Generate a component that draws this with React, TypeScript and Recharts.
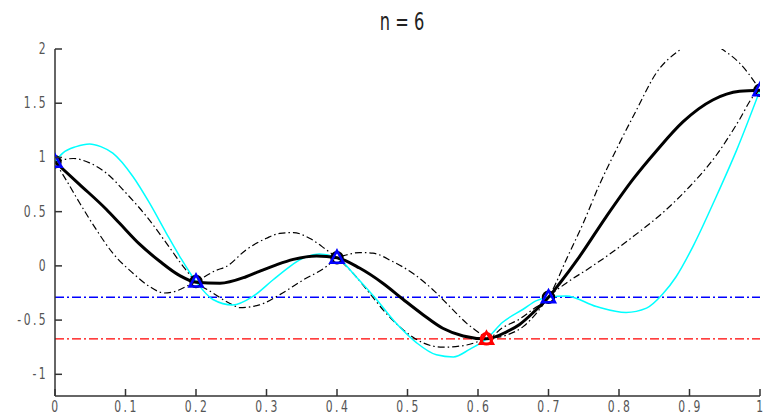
import React from 'react';
import { ComposedChart, Line, Scatter, XAxis, YAxis, ReferenceLine } from 'recharts';

const xTicks = [0, 0.1, 0.2, 0.3, 0.4, 0.5, 0.6, 0.7, 0.8, 0.9, 1];
const yTicks = [-1, -0.5, 0, 0.5, 1, 1.5, 2];

// interpolation nodes (blue) and the minimum found (red)
const nodeX = [0, 0.2, 0.4, 0.7, 1];
const nodeY = [0.96, -0.145, 0.075, -0.29, 1.62];
const minX = [0.612];
const minY = [-0.673];

const levelBlue = -0.29;
const levelRed = -0.673;

// thick black curve
const thickX = [0, 0.035, 0.073, 0.092, 0.12, 0.149, 0.177, 0.2, 0.234, 0.271, 0.29, 0.314, 0.338, 0.371, 0.4, 0.432, 0.465, 0.494, 0.522, 0.55, 0.579, 0.612, 0.64, 0.659, 0.68, 0.7, 0.716, 0.744, 0.782, 0.82, 0.853, 0.891, 0.933, 0.971, 1];
const thickY = [0.96, 0.75, 0.52, 0.39, 0.2, 0.04, -0.09, -0.15, -0.16, -0.1, -0.05, 0.01, 0.06, 0.092, 0.075, -0.02, -0.16, -0.31, -0.45, -0.575, -0.646, -0.673, -0.61, -0.54, -0.42, -0.29, -0.16, 0.086, 0.455, 0.8, 1.06, 1.33, 1.53, 1.61, 1.62];

// cyan curve
const cyanX = [0, 0.011, 0.03, 0.049, 0.065, 0.082, 0.111, 0.134, 0.158, 0.177, 0.2, 0.224, 0.252, 0.281, 0.309, 0.333, 0.347, 0.375, 0.4, 0.427, 0.456, 0.484, 0.513, 0.541, 0.565, 0.588, 0.612, 0.635, 0.664, 0.683, 0.7, 0.725, 0.768, 0.81, 0.839, 0.862, 0.881, 0.905, 0.938, 0.967, 1];
const cyanY = [0.96, 1.04, 1.1, 1.125, 1.1, 1.04, 0.82, 0.58, 0.3, 0.086, -0.145, -0.31, -0.36, -0.28, -0.13, -0.006, 0.055, 0.11, 0.075, -0.1, -0.31, -0.53, -0.71, -0.82, -0.84, -0.77, -0.673, -0.52, -0.4, -0.32, -0.29, -0.277, -0.375, -0.43, -0.39, -0.26, -0.1, 0.18, 0.64, 1.07, 1.62];

// dash-dot curves
const dashAX = [0, 0.026, 0.049, 0.073, 0.101, 0.13, 0.158, 0.182, 0.2, 0.224, 0.252, 0.262, 0.29, 0.319, 0.352, 0.385, 0.4, 0.413, 0.432, 0.451, 0.479, 0.508, 0.536, 0.56, 0.584, 0.602, 0.612, 0.635, 0.659, 0.68, 0.7, 0.706, 0.725, 0.749, 0.773, 0.796, 0.825, 0.853, 0.886, 0.915, 0.948, 0.971, 0.995, 1];
const dashAY = [0.96, 0.99, 0.95, 0.855, 0.67, 0.455, 0.21, -0.006, -0.145, -0.25, -0.36, -0.385, -0.36, -0.265, -0.13, -0.006, 0.075, 0.1, 0.123, 0.117, 0.04, -0.07, -0.22, -0.375, -0.53, -0.62, -0.673, -0.57, -0.49, -0.39, -0.29, -0.22, 0.055, 0.39, 0.76, 1.07, 1.44, 1.78, 1.99, 2.1, 1.99, 1.87, 1.67, 1.62];

const dashBX = [0, 0.016, 0.035, 0.059, 0.082, 0.111, 0.134, 0.155, 0.175, 0.186, 0.2, 0.229, 0.243, 0.271, 0.3, 0.319, 0.338, 0.361, 0.385, 0.4, 0.423, 0.446, 0.47, 0.494, 0.522, 0.55, 0.584, 0.612, 0.64, 0.664, 0.685, 0.7, 0.725, 0.758, 0.782, 0.82, 0.862, 0.9, 0.938, 0.971, 0.99, 1];
const dashBY = [0.96, 0.79, 0.58, 0.33, 0.117, -0.07, -0.19, -0.25, -0.225, -0.19, -0.145, -0.04, -0.006, 0.148, 0.255, 0.3, 0.307, 0.255, 0.148, 0.075, -0.07, -0.25, -0.44, -0.59, -0.71, -0.75, -0.73, -0.673, -0.64, -0.56, -0.42, -0.29, -0.16, -0.02, 0.086, 0.27, 0.49, 0.73, 1.02, 1.35, 1.56, 1.62];

const zip = (xs: number[], ys: number[]) => xs.map((x, i) => ({ x, y: ys[i] }));

const tickFont = '"Liberation Sans Narrow", "DejaVu Sans Condensed", sans-serif';
const axisColor = '#333';
const dashDot = '7 3 1.5 3';

const YTick = ({ x, y, payload }: any) => (
  <g>
    <line x1={x} x2={x + 7} y1={y} y2={y} stroke={axisColor} strokeWidth={1.5} />
    <g transform={`translate(${x - 7},${y + 5}) scale(0.8,1)`}>
      <text textAnchor="end" fontFamily={tickFont} fontSize={15} letterSpacing={3} fill="#555">
        {String(payload.value)}
      </text>
    </g>
  </g>
);

const XTick = ({ x, y, payload }: any) => (
  <g>
    <line x1={x} x2={x} y1={y} y2={y - 7} stroke={axisColor} strokeWidth={1.5} />
    <g transform={`translate(${x + 1},${y + 16}) scale(0.8,1)`}>
      <text textAnchor="middle" fontFamily={tickFont} fontSize={15} letterSpacing={3} fill="#555">
        {String(payload.value)}
      </text>
    </g>
  </g>
);

const NodeMark = ({ cx, cy, color, ring }: any) => (
  <g>
    <circle cx={cx} cy={cy} r={5.5} fill="none" stroke={ring} strokeWidth={2.5} />
    <polygon
      points={`${cx},${cy - 7} ${cx + 6.5},${cy + 5} ${cx - 6.5},${cy + 5}`}
      fill="none"
      stroke={color}
      strokeWidth={2.5}
      strokeLinejoin="miter"
    />
  </g>
);

export default function App() {
  return (
    <div style={{ position: 'absolute', left: 0, top: 0, width: 771, height: 412, background: '#fff' }}>
      <ComposedChart width={771} height={412} margin={{ top: 49, right: 11, bottom: 0, left: 0 }}>
        <XAxis
          dataKey="x"
          type="number"
          domain={[0, 1]}
          ticks={xTicks}
          height={16}
          tickSize={0}
          tickMargin={0}
          tickLine={false}
          axisLine={{ stroke: axisColor, strokeWidth: 1.5 }}
          tick={<XTick />}
          allowDataOverflow
        />
        <YAxis
          type="number"
          domain={[-1.2, 2]}
          ticks={yTicks}
          width={55}
          tickSize={0}
          tickMargin={0}
          tickLine={false}
          axisLine={{ stroke: axisColor, strokeWidth: 1.5 }}
          tick={<YTick />}
          allowDataOverflow
        />
        <ReferenceLine y={levelBlue} stroke="#0000ff" strokeWidth={1.4} strokeDasharray="9 3 2 3" />
        <ReferenceLine y={levelRed} stroke="#ff0000" strokeWidth={1.4} strokeDasharray="9 3 2 3" />
        <Line data={zip(dashAX, dashAY)} dataKey="y" type="monotoneX" stroke="#000" strokeWidth={1.2}
          strokeDasharray={dashDot} dot={false} activeDot={false} isAnimationActive={false} />
        <Line data={zip(dashBX, dashBY)} dataKey="y" type="monotoneX" stroke="#000" strokeWidth={1.2}
          strokeDasharray={dashDot} dot={false} activeDot={false} isAnimationActive={false} />
        <Line data={zip(cyanX, cyanY)} dataKey="y" type="monotoneX" stroke="#00ffff" strokeWidth={1.5}
          dot={false} activeDot={false} isAnimationActive={false} />
        <Line data={zip(thickX, thickY)} dataKey="y" type="monotoneX" stroke="#000" strokeWidth={3}
          dot={false} activeDot={false} isAnimationActive={false} />
        <Scatter data={zip(nodeX, nodeY)} dataKey="y" isAnimationActive={false}
          shape={(p: any) => <NodeMark cx={p.cx} cy={p.cy} color="#0000ff" ring="#000" />} />
        <Scatter data={zip(minX, minY)} dataKey="y" isAnimationActive={false}
          shape={(p: any) => <NodeMark cx={p.cx} cy={p.cy} color="#ff0000" ring="#ff0000" />} />
      </ComposedChart>
      <svg width={771} height={40} style={{ position: 'absolute', left: 0, top: 0, pointerEvents: 'none' }}>
        <g transform="translate(402,30) scale(0.75,1)">
          <text textAnchor="middle" fontFamily={tickFont} fontSize={24} fill="#222">
            n = 6
          </text>
        </g>
      </svg>
    </div>
  );
}
